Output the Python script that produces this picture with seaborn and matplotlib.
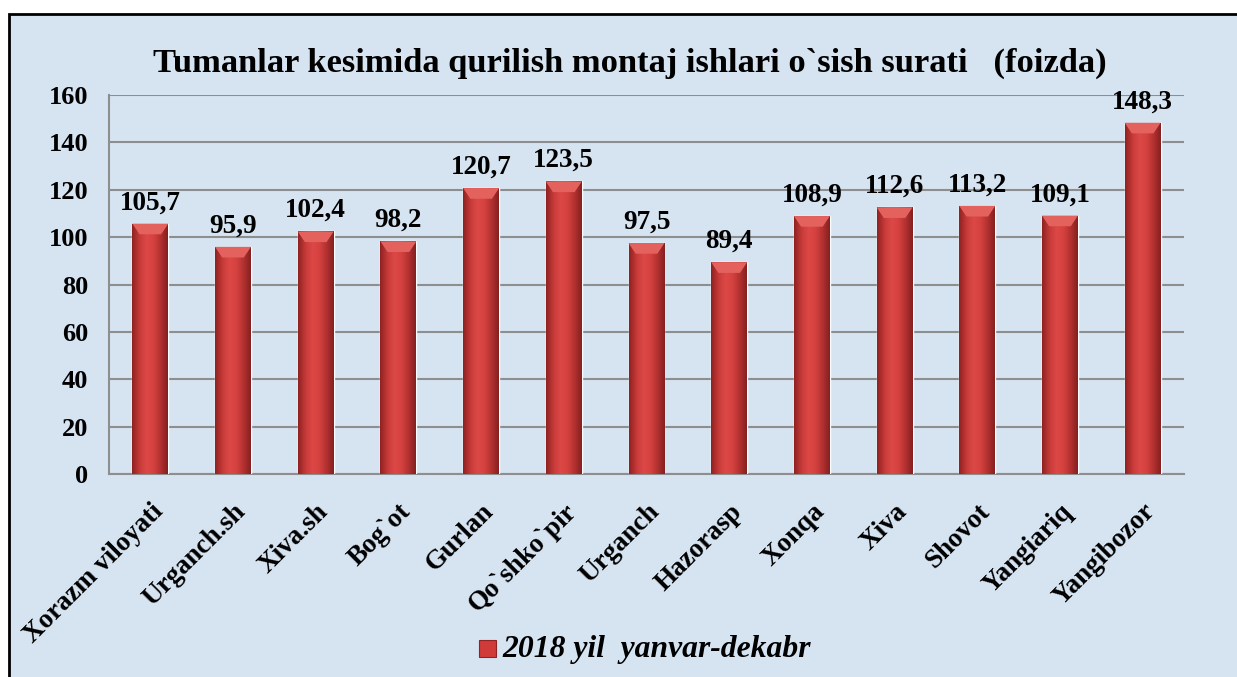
import numpy as np
import pandas as pd
import matplotlib.pyplot as plt
import matplotlib.colors as mcolors
from matplotlib.patches import Rectangle
import seaborn as sns

# Chart data
districts = ["Xorazm viloyati", "Urganch.sh", "Xiva.sh", "Bog`ot", "Gurlan",
             "Qo`shko`pir", "Urganch", "Hazorasp", "Xonqa", "Xiva",
             "Shovot", "Yangiariq", "Yangibozor"]
growth = [105.7, 95.9, 102.4, 98.2, 120.7, 123.5, 97.5, 89.4, 108.9,
          112.6, 113.2, 109.1, 148.3]
series_name = "2018 yil  yanvar-dekabr"
title = "Tumanlar kesimida qurilish montaj ishlari o`sish surati   (foizda)"
y_ticks = [0, 20, 40, 60, 80, 100, 120, 140, 160]

df = pd.DataFrame({"district": districts, "growth": growth})

sns.set_theme(style="white")
plt.rcParams["font.family"] = ["Liberation Serif", "DejaVu Serif"]
plt.rcParams["font.weight"] = "bold"
plt.rcParams["text.color"] = "black"
plt.rcParams["xtick.color"] = "black"
plt.rcParams["ytick.color"] = "black"

bg = "#d6e4f2"
grid_col = "#8e8e8e"

fig = plt.figure(figsize=(12.37, 6.77), dpi=100, facecolor="white")
# light blue panel with black frame on the left/top
fig.patches.append(Rectangle((9 / 1237, -0.01), 1.01, 1 - 14 / 677 + 0.01,
                             transform=fig.transFigure, facecolor=bg,
                             edgecolor="black", linewidth=2, zorder=-5))

ax = fig.add_axes([109 / 1237, 1 - 474 / 677, (1184 - 109) / 1237, (474 - 95) / 677])
ax.set_facecolor("none")

sns.barplot(data=df, x="district", y="growth", color="#c83434", width=0.435,
            saturation=1, ax=ax, zorder=3)

# cylinder-like shading on each bar
cmap = mcolors.LinearSegmentedColormap.from_list(
    "bar", ["#8f2222", "#c53a38", "#dc4846", "#d44240", "#b33130", "#862020"])
grad = np.linspace(0, 1, 64).reshape(1, -1)
for p in list(ax.patches):
    x0, y0 = p.get_x(), p.get_y()
    w, h = p.get_width(), p.get_height()
    im = ax.imshow(grad, cmap=cmap, aspect="auto", extent=[x0, x0 + w, y0, y0 + h],
                   zorder=4)
    im.set_clip_path(p)
    # lighter bevel on top
    ax.fill([x0, x0 + w, x0 + w * 0.8, x0 + w * 0.2],
            [y0 + h, y0 + h, y0 + h - 4.5, y0 + h - 4.5],
            color="#e4625e", zorder=5, lw=0)
    ax.text(x0 + w / 2, y0 + h + 3.5, f"{h:.1f}".replace(".", ","), ha="center", va="bottom",
            fontsize=19.5, fontweight="bold", color="black", zorder=6)

ax.set_xlim(-0.5, len(districts) - 0.5)
ax.set_ylim(0, 160)
ax.set_yticks(y_ticks)
ax.set_yticklabels([str(t) for t in y_ticks], fontsize=19, fontweight="bold")
ax.yaxis.grid(True, color=grid_col, linewidth=1.5, zorder=1)
ax.set_axisbelow(True)

ax.set_xticks(range(len(districts)))
ax.set_xticklabels(districts, rotation=45, ha="right", rotation_mode="anchor",
                   fontsize=19.5, fontweight="bold")
ax.set_xticks(np.arange(-0.5, len(districts), 1), minor=True)
ax.tick_params(axis="x", which="major", length=0, pad=18)
ax.tick_params(axis="x", which="minor", length=7, width=1.5, color=grid_col, direction="out")
ax.tick_params(axis="y", length=7, width=1.5, color=grid_col, direction="out", pad=8)
ax.set_xlabel("")
ax.set_ylabel("")
for side in ["top", "right"]:
    ax.spines[side].set_visible(False)
for side in ["left", "bottom"]:
    ax.spines[side].set_color(grid_col)
    ax.spines[side].set_linewidth(1.5)

fig.text(630 / 1237, 1 - 63 / 677, title, ha="center", va="center",
         fontsize=24.8, fontweight="bold")

# legend
fig.patches.append(Rectangle((479 / 1237, 1 - 657 / 677), 17 / 1237, 17 / 677,
                             transform=fig.transFigure, facecolor="#d03a38",
                             edgecolor="#8f2222", linewidth=0.8, zorder=2))
fig.text(502 / 1237, 1 - 649 / 677, series_name, ha="left", va="center",
         fontsize=22.8, fontweight="bold", fontstyle="italic")

fig.savefig("out.png", dpi=100, facecolor=fig.get_facecolor())
